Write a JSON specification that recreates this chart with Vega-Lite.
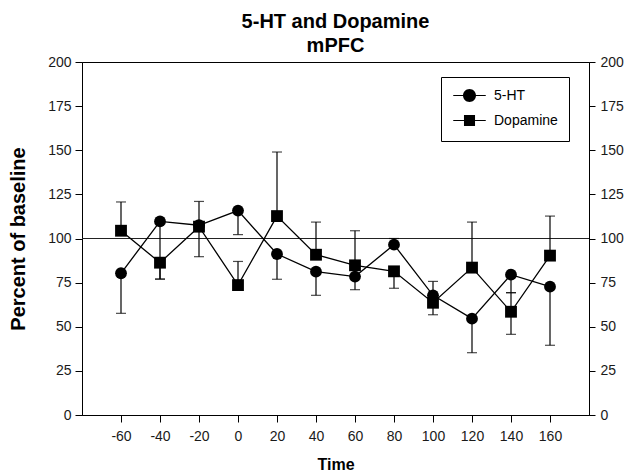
{
  "$schema": "https://vega.github.io/schema/vega-lite/v6.json",
  "width": 507,
  "height": 353,
  "autosize": {"type": "none"},
  "padding": {"left": 82, "top": 62, "right": 38, "bottom": 59},
  "background": "white",
  "title": {
    "text": ["5-HT and Dopamine", "mPFC"],
    "font": "Liberation Sans",
    "fontSize": 20,
    "fontWeight": "bold",
    "lineHeight": 24,
    "anchor": "middle",
    "offset": -1,
    "color": "black"
  },
  "config": {
    "view": {"stroke": "black", "strokeWidth": 1},
    "axis": {
      "labelFont": "Liberation Sans",
      "titleFont": "Liberation Sans",
      "labelFontSize": 14,
      "labelColor": "#1a1a1a",
      "domainColor": "black",
      "tickColor": "black",
      "grid": false,
      "titleColor": "black",
      "titleFontWeight": "bold"
    },
    "axisX": {"tickSize": 7, "labelPadding": 7, "titleFontSize": 16, "titlePadding": 13, "labelExpr": "'' + datum.value"},
    "axisLeft": {"tickSize": 7, "labelPadding": 4, "titleFontSize": 20, "titlePadding": 19},
    "axisRight": {"tickSize": 6, "labelPadding": 5}
  },
  "data": {
    "values": [
      {"time": -60, "series": "5-HT", "value": 80.3, "lo": 57.6, "hi": 80.3},
      {"time": -40, "series": "5-HT", "value": 109.7, "lo": 77, "hi": 109.7},
      {"time": -20, "series": "5-HT", "value": 107.5, "lo": 107.5, "hi": 121},
      {"time": 0, "series": "5-HT", "value": 115.8, "lo": 102.2, "hi": 115.8},
      {"time": 20, "series": "5-HT", "value": 91.2, "lo": 76.9, "hi": 91.2},
      {"time": 40, "series": "5-HT", "value": 81.2, "lo": 67.8, "hi": 81.2},
      {"time": 60, "series": "5-HT", "value": 78.4, "lo": 71, "hi": 78.4},
      {"time": 80, "series": "5-HT", "value": 96.5, "lo": 96.5, "hi": 100},
      {"time": 100, "series": "5-HT", "value": 67.8, "lo": 67.8, "hi": 75.7},
      {"time": 120, "series": "5-HT", "value": 54.6, "lo": 35.3, "hi": 54.6},
      {"time": 140, "series": "5-HT", "value": 79.5, "lo": 69.3, "hi": 79.5},
      {"time": 160, "series": "5-HT", "value": 72.7, "lo": 39.5, "hi": 72.7},
      {"time": -60, "series": "Dopamine", "value": 104.4, "lo": 104.4, "hi": 120.7},
      {"time": -40, "series": "Dopamine", "value": 86.3, "lo": 77, "hi": 86.3},
      {"time": -20, "series": "Dopamine", "value": 106.7, "lo": 89.7, "hi": 106.7},
      {"time": 0, "series": "Dopamine", "value": 73.6, "lo": 73.6, "hi": 87},
      {"time": 20, "series": "Dopamine", "value": 112.7, "lo": 112.7, "hi": 149},
      {"time": 40, "series": "Dopamine", "value": 90.8, "lo": 90.8, "hi": 109.3},
      {"time": 60, "series": "Dopamine", "value": 84.8, "lo": 84.8, "hi": 104.4},
      {"time": 80, "series": "Dopamine", "value": 81.4, "lo": 71.8, "hi": 81.4},
      {"time": 100, "series": "Dopamine", "value": 63.6, "lo": 56.8, "hi": 63.6},
      {"time": 120, "series": "Dopamine", "value": 83.5, "lo": 83.5, "hi": 109.3},
      {"time": 140, "series": "Dopamine", "value": 58.5, "lo": 45.7, "hi": 69.3},
      {"time": 160, "series": "Dopamine", "value": 90.3, "lo": 90.3, "hi": 112.7}
    ]
  },
  "layer": [
    {
      "data": {"values": [{"ref": 100}]},
      "mark": {"type": "rule", "color": "#222", "strokeWidth": 1},
      "encoding": {
        "y": {
          "field": "ref",
          "type": "quantitative",
          "scale": {"domain": [0, 200]},
          "axis": {"orient": "right", "title": null, "values": [0, 25, 50, 75, 100, 125, 150, 175, 200]}
        }
      }
    },
    {
      "encoding": {
        "x": {
          "field": "time",
          "type": "quantitative",
          "title": "Time",
          "scale": {"domain": [-80, 180]},
          "axis": {"values": [-60, -40, -20, 0, 20, 40, 60, 80, 100, 120, 140, 160]}
        }
      },
      "layer": [
        {
          "mark": {"type": "line", "color": "black", "strokeWidth": 1.3},
          "encoding": {
            "y": {
              "field": "value",
              "type": "quantitative",
              "title": "Percent of baseline",
              "scale": {"domain": [0, 200]},
              "axis": {"values": [0, 25, 50, 75, 100, 125, 150, 175, 200]}
            },
            "detail": {"field": "series"}
          }
        },
        {
          "mark": {"type": "rule", "color": "black", "strokeWidth": 1.2},
          "encoding": {
            "y": {"field": "lo", "type": "quantitative", "title": "Percent of baseline"},
            "y2": {"field": "hi"}
          }
        },
        {
          "mark": {"type": "tick", "orient": "horizontal", "color": "black", "size": 10, "thickness": 1.2},
          "encoding": {
            "y": {"field": "lo", "type": "quantitative", "title": "Percent of baseline"}
          }
        },
        {
          "mark": {"type": "tick", "orient": "horizontal", "color": "black", "size": 10, "thickness": 1.2},
          "encoding": {
            "y": {"field": "hi", "type": "quantitative", "title": "Percent of baseline"}
          }
        },
        {
          "transform": [{"filter": "datum.series === '5-HT'"}],
          "mark": {"type": "point", "filled": true, "opacity": 1, "color": "black", "size": 140, "shape": "circle"},
          "encoding": {
            "y": {"field": "value", "type": "quantitative", "title": "Percent of baseline"}
          }
        },
        {
          "transform": [{"filter": "datum.series === 'Dopamine'"}],
          "mark": {"type": "point", "filled": true, "opacity": 1, "color": "black", "size": 140, "shape": "square"},
          "encoding": {
            "y": {"field": "value", "type": "quantitative", "title": "Percent of baseline"}
          }
        },
        {
          "mark": {"type": "point", "filled": true, "color": "black", "opacity": 0, "size": 140},
          "encoding": {
            "y": {"field": "value", "type": "quantitative", "title": "Percent of baseline"},
            "shape": {
              "field": "series",
              "type": "nominal",
              "scale": {
                "domain": ["5-HT", "Dopamine"],
                "range": [
                  "M-2.5,-0.09H2.5V0.09H-2.5Z M1,0A1,1,0,1,1,-1,0A1,1,0,1,1,1,0Z",
                  "M-2.5,-0.09H2.5V0.09H-2.5Z M-0.85,-0.85H0.85V0.85H-0.85Z"
                ]
              },
              "legend": {
                "title": null,
                "orient": "none",
                "legendX": 359,
                "legendY": 15,
                "strokeColor": "black",
                "fillColor": "white",
                "padding": 11,
                "symbolSize": 169,
                "symbolOffset": 10,
                "labelOffset": 17,
                "rowPadding": 6,
                "symbolOpacity": 1,
                "symbolFillColor": "black",
                "labelFont": "Liberation Sans",
                "labelFontSize": 14,
                "labelColor": "black"
              }
            }
          }
        }
      ]
    }
  ],
  "resolve": {"scale": {"y": "independent"}}
}
